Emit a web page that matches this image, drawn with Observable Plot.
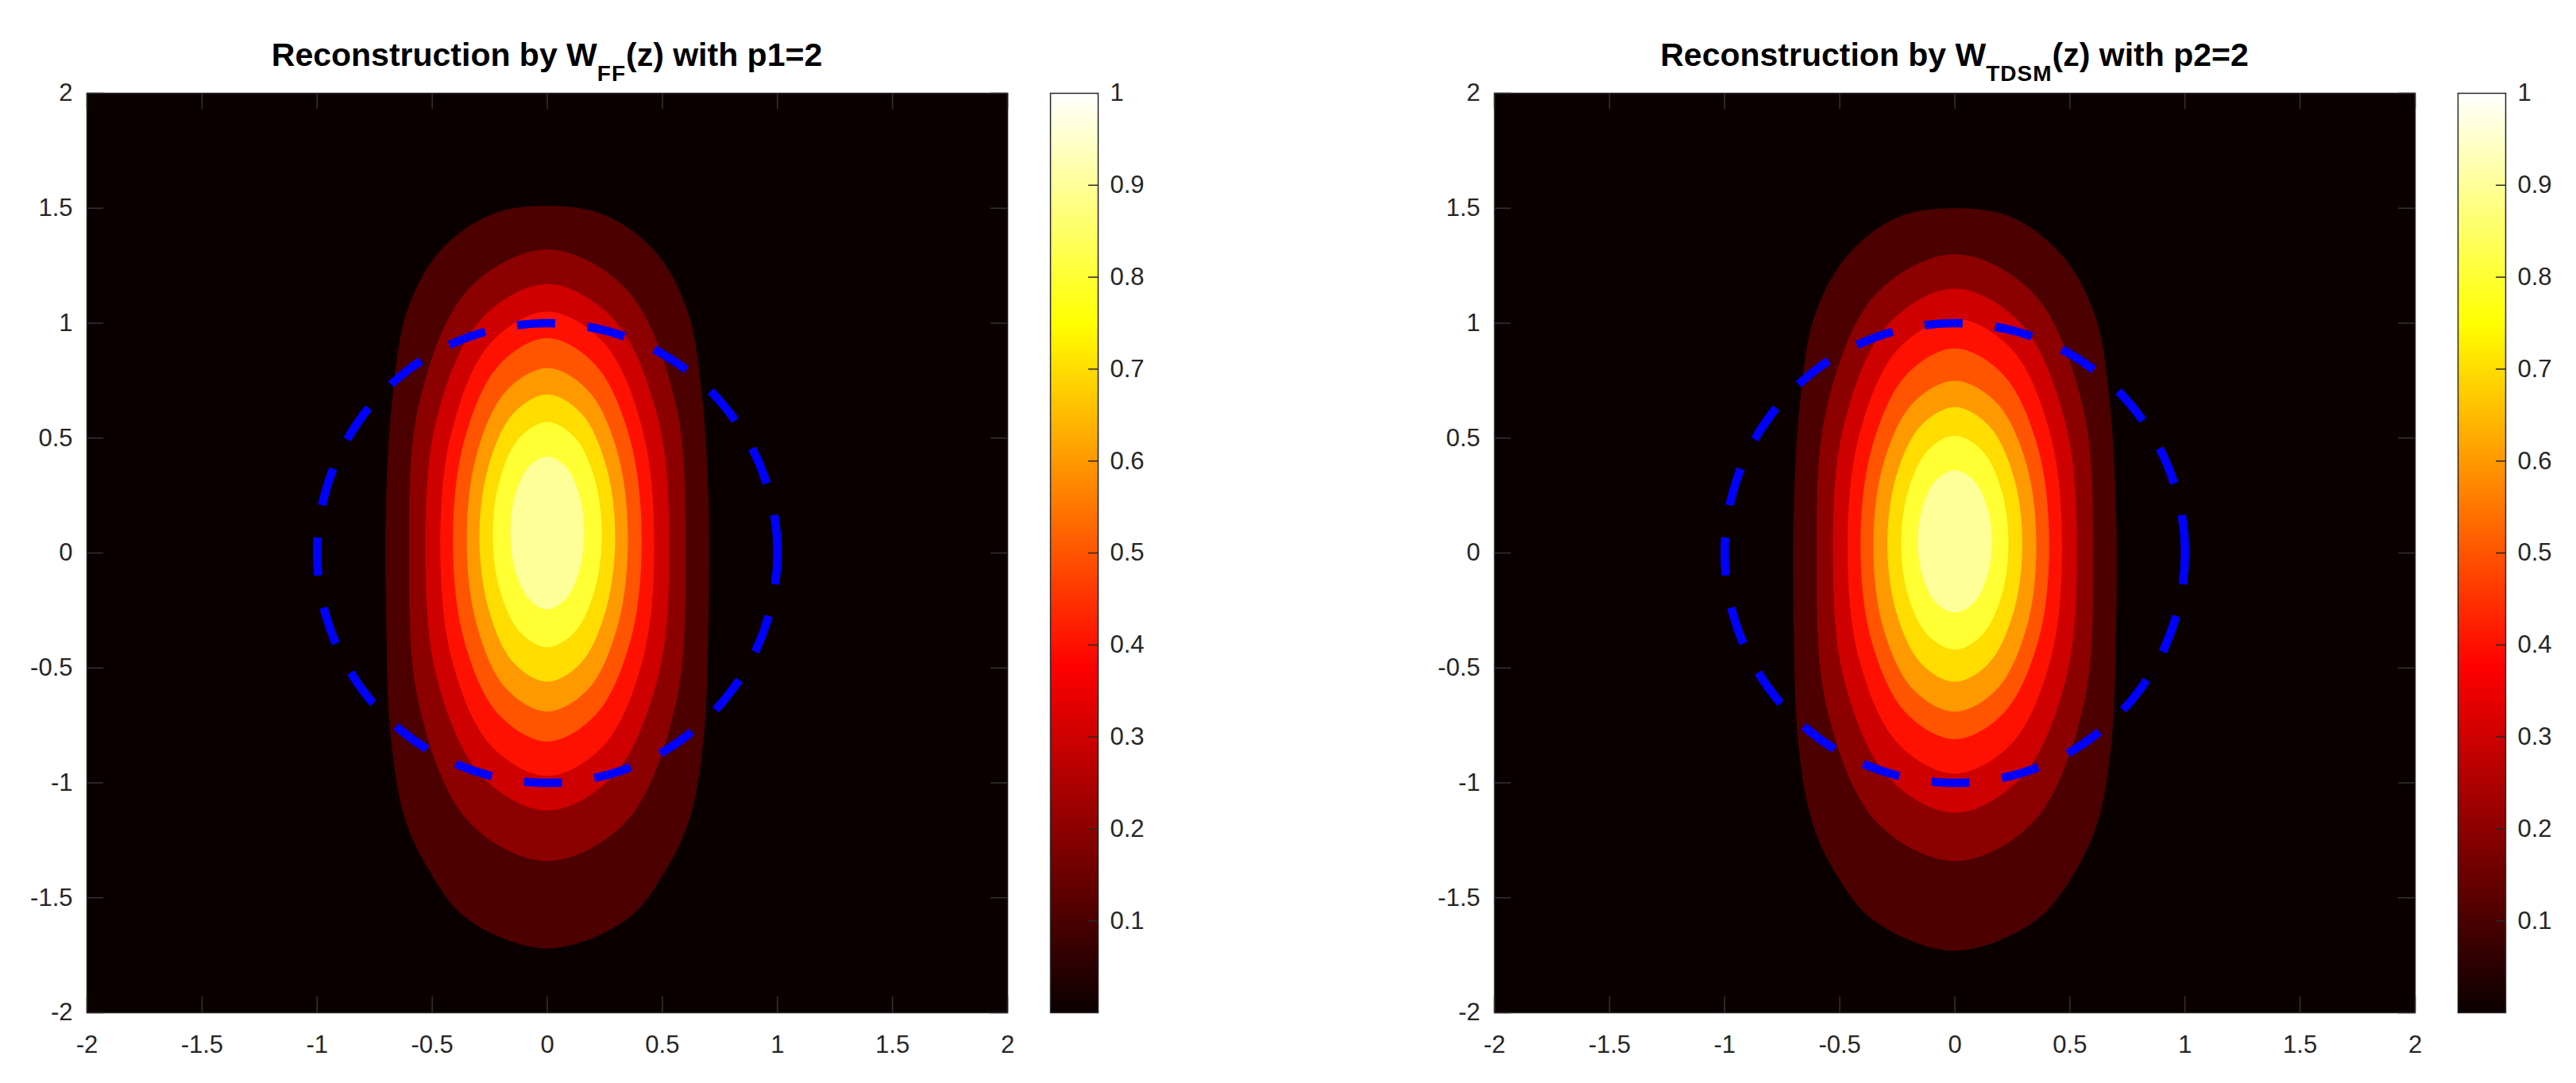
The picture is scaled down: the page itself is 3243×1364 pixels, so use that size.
<!DOCTYPE html>
<html>
<head>
<meta charset="utf-8">
<script src="https://cdn.jsdelivr.net/npm/d3@7"></script>
<script src="https://cdn.jsdelivr.net/npm/@observablehq/plot@0.6"></script>
<style>
  html, body { margin: 0; padding: 0; background: #ffffff; }
  #page { position: relative; width: 3243px; height: 1364px; overflow: hidden; background: #ffffff;
          font-family: "Liberation Sans", Arial, Helvetica, sans-serif; }
  .title { position: absolute; top: 49px; text-align: center; font-weight: bold;
           font-size: 41px; line-height: 41px; color: #000; white-space: nowrap; }
  .title .sub { font-size: 28px; vertical-align: -19px; letter-spacing: 1px; }
  svg { position: absolute; overflow: visible; }
</style>
</head>
<body>
<div id="page"></div>
<script>
// ---------------- data ----------------
const xTicks = [-2, -1.5, -1, -0.5, 0, 0.5, 1, 1.5, 2];
const yTicks = [-2, -1.5, -1, -0.5, 0, 0.5, 1, 1.5, 2];
const colorbarTicks = [0.1, 0.2, 0.3, 0.4, 0.5, 0.6, 0.7, 0.8, 0.9, 1];
const levels = [0.1, 0.2, 0.3, 0.4, 0.5, 0.6, 0.7, 0.8, 0.9];

// right half of each filled contour boundary (top -> bottom), left panel W_FF
const ffBoundary = [
  [[0, 1.51], [0.25, 1.47], [0.47, 1.31], [0.61, 1.05], [0.67, 0.70], [0.70, 0.25], [0.70, -0.30],
   [0.68, -0.80], [0.62, -1.15], [0.52, -1.37], [0.35, -1.59], [0, -1.72]],
  [[0, 1.32], [0.34, 1.15], [0.555, 0.66], [0.60, 0.00], [0.555, -0.67], [0.34, -1.17], [0, -1.34]],
  [[0, 1.17], [0.285, 1.02], [0.478, 0.595], [0.53, 0.02], [0.478, -0.55], [0.285, -0.97], [0, -1.12]],
  [[0, 1.05], [0.245, 0.915], [0.413, 0.54], [0.465, 0.03], [0.413, -0.47], [0.245, -0.838], [0, -0.97]],
  [[0, 0.935], [0.211, 0.816], [0.36, 0.493], [0.41, 0.05], [0.36, -0.385], [0.211, -0.703], [0, -0.82]],
  [[0, 0.805], [0.179, 0.705], [0.306, 0.433], [0.35, 0.06], [0.306, -0.315], [0.179, -0.59], [0, -0.69]],
  [[0, 0.69], [0.148, 0.607], [0.255, 0.38], [0.295, 0.07], [0.255, -0.245], [0.148, -0.476], [0, -0.56]],
  [[0, 0.57], [0.119, 0.504], [0.205, 0.325], [0.237, 0.08], [0.205, -0.165], [0.119, -0.344], [0, -0.41]],
  [[0, 0.42], [0.08, 0.376], [0.139, 0.255], [0.16, 0.09], [0.139, -0.078], [0.08, -0.20], [0, -0.245]]
];

// right half of each filled contour boundary (top -> bottom), right panel W_TDSM
const tdsmBoundary = [
  [[0, 1.50], [0.25, 1.46], [0.47, 1.29], [0.61, 1.03], [0.67, 0.68], [0.70, 0.20], [0.70, -0.35],
   [0.68, -0.83], [0.62, -1.17], [0.52, -1.39], [0.35, -1.60], [0, -1.73]],
  [[0, 1.30], [0.34, 1.13], [0.555, 0.64], [0.60, -0.02], [0.555, -0.68], [0.34, -1.17], [0, -1.34]],
  [[0, 1.15], [0.285, 1.0], [0.478, 0.575], [0.53, 0.00], [0.478, -0.565], [0.285, -0.98], [0, -1.13]],
  [[0, 1.02], [0.246, 0.888], [0.414, 0.52], [0.466, 0.02], [0.414, -0.47], [0.246, -0.83], [0, -0.96]],
  [[0, 0.89], [0.211, 0.775], [0.36, 0.46], [0.41, 0.03], [0.36, -0.39], [0.211, -0.697], [0, -0.81]],
  [[0, 0.75], [0.181, 0.654], [0.31, 0.39], [0.354, 0.03], [0.31, -0.33], [0.181, -0.594], [0, -0.69]],
  [[0, 0.635], [0.147, 0.555], [0.254, 0.3375], [0.293, 0.04], [0.254, -0.26], [0.147, -0.48], [0, -0.56]],
  [[0, 0.51], [0.117, 0.447], [0.202, 0.275], [0.233, 0.04], [0.202, -0.19], [0.117, -0.358], [0, -0.42]],
  [[0, 0.36], [0.081, 0.318], [0.139, 0.205], [0.161, 0.05], [0.139, -0.105], [0.081, -0.218], [0, -0.26]]
];

// unit circle (dashed blue), listed from 345° so the closed curve starts at (1, 0)
const circleX = [0.9659, 1, 0.9659, 0.8660, 0.7071, 0.5, 0.2588, 0, -0.2588, -0.5, -0.7071, -0.8660,
                 -0.9659, -1, -0.9659, -0.8660, -0.7071, -0.5, -0.2588, 0, 0.2588, 0.5, 0.7071, 0.8660];
const circleY = [-0.2588, 0, 0.2588, 0.5, 0.7071, 0.8660, 0.9659, 1, 0.9659, 0.8660, 0.7071, 0.5,
                 0.2588, 0, -0.2588, -0.5, -0.7071, -0.8660, -0.9659, -1, -0.9659, -0.8660, -0.7071, -0.5];

// MATLAB "hot" colormap
const hotStops = [0, 0.375, 0.75, 1];
const hotColors = ["#0b0000", "#ff0000", "#ffff00", "#ffffff"];

const titles = [
  {main: "Reconstruction by W", sub: "FF", tail: "(z) with p1=2"},
  {main: "Reconstruction by W", sub: "TDSM", tail: "(z) with p2=2"}
];

// ---------------- layout ----------------
const FONT = '"Liberation Sans", Arial, Helvetica, sans-serif';
const panelW = 1300, H = 1364;
const mL = 109, mR = panelW - 1268, mT = 117, mB = H - 1275;
const frameH = H - mT - mB;
const panelOffset = 1772;
const colorScale = {type: "linear", domain: hotStops, range: hotColors};

function rows(boundary) {
  const out = [];
  boundary.forEach((half, i) => {
    const level = levels[i];
    half.forEach(([x, y]) => out.push({level, x, y}));
    half.slice(1, -1).reverse().forEach(([x, y]) => out.push({level, x: -x, y}));
  });
  return out;
}
const circle = circleX.map((x, i) => ({x, y: circleY[i]}));

function panel(boundary) {
  return Plot.plot({
    width: panelW, height: H,
    marginLeft: mL, marginRight: mR, marginTop: mT, marginBottom: mB,
    x: {domain: [-2, 2]},
    y: {domain: [-2, 2]},
    color: colorScale,
    style: {fontFamily: FONT, fontSize: "31px", color: "#262626", background: "transparent"},
    marks: [
      Plot.frame({fill: hotColors[0], stroke: "none"}),
      Plot.line(rows(boundary), {x: "x", y: "y", z: "level", fill: "level", stroke: "none", curve: "catmull-rom-closed"}),
      Plot.line(circle, {x: "x", y: "y", stroke: "#0000ff", strokeWidth: 10.5, strokeDasharray: "48,41",
                         strokeLinecap: "butt", curve: "catmull-rom-closed"}),
      Plot.tickX(xTicks, {x: d => d, insetTop: frameH - 20, stroke: "#333333", strokeWidth: 1.5}),
      Plot.tickX(xTicks, {x: d => d, insetBottom: frameH - 20, stroke: "#333333", strokeWidth: 1.5}),
      Plot.tickY(yTicks, {y: d => d, insetRight: frameH - 20, stroke: "#333333", strokeWidth: 1.5}),
      Plot.tickY(yTicks, {y: d => d, insetLeft: frameH - 20, stroke: "#333333", strokeWidth: 1.5}),
      Plot.axisX({ticks: xTicks, tickFormat: d => String(d), tickSize: 0, tickPadding: 28, label: null, fill: "#262626"}),
      Plot.axisY({ticks: yTicks, tickFormat: d => String(d), tickSize: 0, tickPadding: 18, label: null, fill: "#262626"}),
      Plot.frame({stroke: "#262626", strokeWidth: 1.5})
    ]
  });
}

const cbW = 200, cbL = 10, cbFrameW = 60;
function colorbar() {
  const marks = [];
  if (Plot.raster) {
    marks.push(Plot.raster({x1: 0, x2: 1, y1: 0, y2: 1, width: 1, height: 512, fill: (x, y) => y}));
  } else {
    const steps = d3.range(0, 1, 1 / 256);
    marks.push(Plot.rect(steps, {x1: 0, x2: 1, y1: d => d, y2: d => d + 1 / 256, fill: d => d + 0.5 / 256}));
  }
  marks.push(
    Plot.tickY(colorbarTicks.slice(0, -1), {y: d => d, insetLeft: cbFrameW - 12, stroke: "#262626", strokeWidth: 1.5}),
    Plot.axisY({anchor: "right", ticks: colorbarTicks, tickFormat: d => String(d), tickSize: 0, tickPadding: 15, label: null, fill: "#262626"}),
    Plot.frame({stroke: "#262626", strokeWidth: 1.5})
  );
  return Plot.plot({
    width: cbW, height: H,
    marginLeft: cbL, marginRight: cbW - cbL - cbFrameW, marginTop: mT, marginBottom: mB,
    x: {domain: [0, 1], axis: null},
    y: {domain: [0, 1], axis: null},
    color: colorScale,
    style: {fontFamily: FONT, fontSize: "31px", color: "#262626", background: "transparent"},
    marks
  });
}

const page = document.getElementById("page");
[ffBoundary, tdsmBoundary].forEach((b, k) => {
  const off = k * panelOffset;
  const svg = panel(b);
  svg.style.left = off + "px"; svg.style.top = "0px";
  page.appendChild(svg);
  const cb = colorbar();
  cb.style.left = (1322 - cbL + off) + "px"; cb.style.top = "0px";
  page.appendChild(cb);
  const t = document.createElement("div");
  t.className = "title";
  t.style.left = off + "px";
  const s1 = document.createElement("span"); s1.textContent = titles[k].main;
  const s2 = document.createElement("span"); s2.className = "sub"; s2.textContent = titles[k].sub;
  const s3 = document.createElement("span"); s3.textContent = titles[k].tail;
  t.append(s1, s2, s3);
  // center the title over the frame
  t.style.width = (2 * (mL + (1268 - mL) / 2)) + "px";
  page.appendChild(t);
});
</script>
</body>
</html>
